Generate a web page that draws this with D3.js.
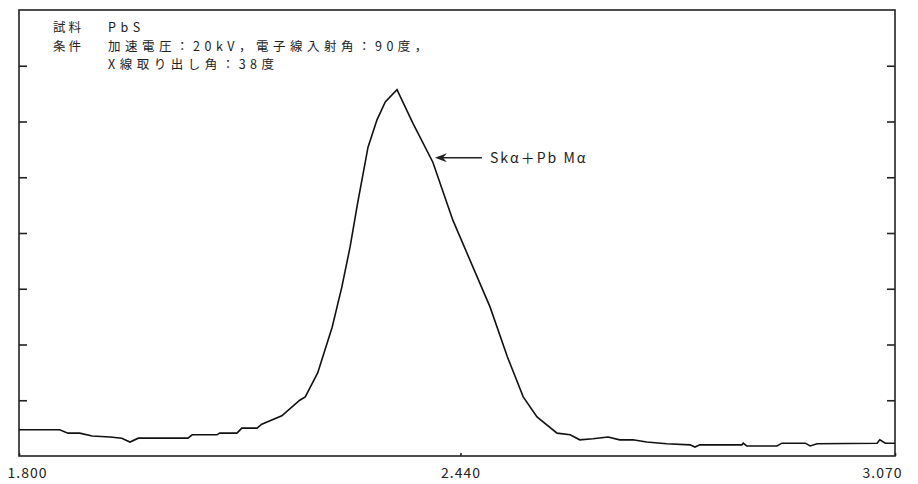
<!DOCTYPE html>
<html>
<head>
<meta charset="utf-8">
<script src="https://cdn.jsdelivr.net/npm/d3@7"></script>
<style>
body { margin: 0; background: #fff; }
text { font-family: "Noto Sans CJK JP", "Noto Sans", sans-serif; fill: #222; }
</style>
</head>
<body>
<div id="chart"></div>
<script>
// spectrum: energy (keV) vs intensity (arbitrary)
var energy = [1.800, 1.859, 1.871, 1.888, 1.906, 1.932, 1.949, 1.961, 1.973, 2.045,
  2.051, 2.087, 2.091, 2.116, 2.123, 2.145, 2.152, 2.181, 2.207, 2.215,
  2.233, 2.254, 2.268, 2.280, 2.291, 2.306, 2.319, 2.331, 2.348, 2.371,
  2.400, 2.429, 2.483, 2.508, 2.531, 2.551, 2.580, 2.599, 2.613, 2.632,
  2.654, 2.671, 2.690, 2.710, 2.739, 2.773, 2.780, 2.787, 2.848, 2.850,
  2.855, 2.899, 2.906, 2.940, 2.947, 2.957, 3.044, 3.048, 3.056, 3.070];
var intensity = [0.47, 0.47, 0.41, 0.41, 0.36, 0.34, 0.32, 0.25, 0.32, 0.32,
  0.38, 0.38, 0.41, 0.41, 0.50, 0.50, 0.57, 0.72, 1.00, 1.06,
  1.49, 2.31, 3.03, 3.75, 4.54, 5.54, 6.03, 6.35, 6.57, 5.97,
  5.27, 4.23, 2.67, 1.78, 1.06, 0.70, 0.41, 0.38, 0.29, 0.31,
  0.34, 0.29, 0.29, 0.25, 0.22, 0.20, 0.16, 0.20, 0.20, 0.23,
  0.18, 0.18, 0.23, 0.23, 0.18, 0.22, 0.23, 0.29, 0.23, 0.23];
var xTicks = [1.800, 2.440, 3.070];
var yTicks = [1, 2, 3, 4, 5, 6, 7];
var noteLines = [
  ["試料", "PbS"],
  ["条件", "加速電圧：20kV，電子線入射角：90度，"],
  ["", "X線取り出し角：38度"]
];
var peakLabel = "Skα＋Pb Mα";
var peakAt = {x: 2.403, y: 5.35};

var width = 918, height = 484;
var margin = {top: 10, right: 23, bottom: 28, left: 19};
var chartWidth = width - margin.left - margin.right;
var chartHeight = height - margin.top - margin.bottom;

var svg = d3.select("#chart").append("svg")
  .attr("width", width)
  .attr("height", height);

var g = svg.append("g")
  .attr("transform", `translate(${margin.left}, ${margin.top})`);

var xScale = d3.scaleLinear().domain([1.8, 3.07]).range([0, chartWidth]);
var yScale = d3.scaleLinear().domain([0, 8]).range([chartHeight, 0]);

// frame
g.append("rect")
  .attr("width", chartWidth)
  .attr("height", chartHeight)
  .attr("fill", "none")
  .attr("stroke", "#222")
  .attr("stroke-width", 1.6);

var yLeft = d3.axisLeft(yScale).tickValues(yTicks).tickSize(-8).tickFormat("");
var yRight = d3.axisRight(yScale).tickValues(yTicks).tickSize(-8).tickFormat("");
var xAxis = d3.axisBottom(xScale).tickValues(xTicks).tickSize(-3)
  .tickPadding(12).tickFormat(d3.format(".3f"));

g.append("g").attr("class", "y axis").call(yLeft);
g.append("g").attr("class", "y axis")
  .attr("transform", `translate(${chartWidth},0)`)
  .call(yRight);
var xg = g.append("g").attr("class", "x axis")
  .attr("transform", `translate(0,${chartHeight})`)
  .call(xAxis);

svg.selectAll(".axis .domain").remove();
svg.selectAll(".axis line").attr("stroke", "#222").attr("stroke-width", 1.6);
xg.selectAll("text")
  .attr("font-size", 14)
  .attr("letter-spacing", 1)
  .attr("fill", "#222")
  .attr("font-family", "'Noto Sans CJK JP', sans-serif")
  .attr("dx", (d, i) => i == 0 ? 8 : (i == xTicks.length - 1 ? -13 : 0));

var line = d3.line()
  .x((d, i) => xScale(energy[i]))
  .y(d => yScale(d));

g.append("path")
  .datum(intensity)
  .attr("fill", "none")
  .attr("stroke", "#111")
  .attr("stroke-width", 1.6)
  .attr("d", line);

// note block
var note = g.append("g").attr("class", "note");
noteLines.forEach((row, i) => {
  var yy = 22 + i * 18.5;
  note.append("text").attr("x", 34).attr("y", yy)
    .attr("font-size", 12.5).attr("letter-spacing", 3).text(row[0]);
  note.append("text").attr("x", 89).attr("y", yy)
    .attr("font-size", 12.5).attr("letter-spacing", 4.5).text(row[1]);
});

// arrow + label
var ax = xScale(peakAt.x), ay = yScale(peakAt.y);
g.append("line")
  .attr("x1", ax + 47).attr("y1", ay)
  .attr("x2", ax + 6).attr("y2", ay)
  .attr("stroke", "#222").attr("stroke-width", 1.4);
g.append("path")
  .attr("d", `M${ax},${ay} L${ax + 12},${ay - 4.5} L${ax + 8},${ay} L${ax + 12},${ay + 4.5} Z`)
  .attr("fill", "#222");
g.append("text")
  .attr("x", ax + 55).attr("y", ay + 5)
  .attr("font-size", 14).attr("letter-spacing", 2)
  .text(peakLabel);
</script>
</body>
</html>
